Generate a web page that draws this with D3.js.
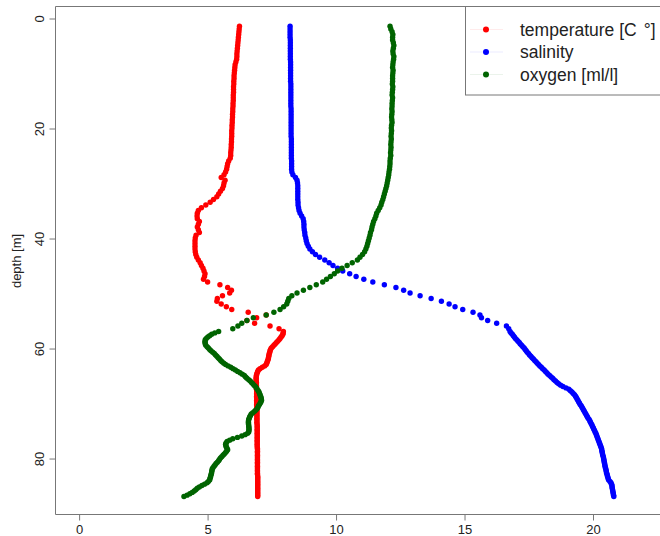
<!DOCTYPE html>
<html>
<head>
<meta charset="utf-8">
<script src="https://cdn.jsdelivr.net/npm/d3@7"></script>
<style>
  html, body { margin: 0; padding: 0; background: #fff; }
  svg { display: block; font-family: "Liberation Sans", Arial, sans-serif; }
</style>
</head>
<body>
<svg id="chart" width="660" height="536"></svg>
<script>
// depth of each sample [m]
const depth = [
  1.5,2,2.5,3,3.5,4,4.5,5,5.5,6,
  6.5,7,7.5,8,8.5,9,9.5,10,10.5,11,
  11.5,12,12.5,13,13.5,14,14.5,15,15.5,16,
  16.5,17,17.5,18,18.5,19,19.5,20,20.5,21,
  21.5,22,22.5,23,23.5,24,24.5,25,25.5,26,
  26.5,27,27.5,28,28.5,29,29.5,30,30.5,31,
  31.5,32,32.5,33,33.5,34,34.5,35,35.5,36,
  36.5,37,37.5,38,38.5,39,39.5,40,40.5,41,
  41.5,42,42.5,43,43.5,44,44.5,45,45.5,46,
  46.5,47,47.5,48,48.5,49,49.5,50,50.5,51,
  51.5,52,52.5,53,53.5,54,54.5,55,55.5,56,
  56.5,57,
  57.25,57.5,57.75,58,58.25,58.5,58.75,59,
  59.25,59.5,59.75,60,60.25,60.5,60.75,61,
  61.25,61.5,61.75,62,62.25,62.5,62.75,63,
  63.25,63.5,63.75,64,64.25,64.5,64.75,65,
  65.25,65.5,65.75,66,66.25,66.5,66.75,67,
  67.25,67.5,67.75,68,68.25,68.5,68.75,69,
  69.25,69.5,69.75,70,70.25,70.5,70.75,71,
  71.25,71.5,71.75,72,72.25,72.5,72.75,73,
  73.25,73.5,73.75,74,74.25,74.5,74.75,75,
  75.25,75.5,75.75,76,76.25,76.5,76.75,77,
  77.25,77.5,77.75,78,78.25,78.5,78.75,79,
  79.25,79.5,79.75,80,80.25,80.5,80.75,81,
  81.25,81.5,81.75,82,82.25,82.5,82.75,83,
  83.25,83.5,83.75,84,84.25,84.5,84.75,85,
  85.25,85.5,85.75,86,86.25,86.5,86.75,87
];

const temperature = [
  6.26,6.25,6.24,6.23,6.22,6.21,6.20,6.19,6.18,6.17,
  6.16,6.16,6.15,6.12,6.09,6.08,6.07,6.06,6.05,6.05,
  6.04,6.04,6.03,6.03,6.03,6.02,6.02,6.02,6.01,6.01,
  6.00,6.00,5.99,5.99,5.98,5.98,5.97,5.97,5.96,5.96,
  5.96,5.95,5.95,5.94,5.94,5.93,5.92,5.92,5.90,5.84,
  5.80,5.78,5.76,5.72,5.66,5.55,5.70,5.66,5.64,5.60,
  5.52,5.45,5.38,5.25,5.12,4.95,4.78,4.66,4.62,4.61,
  4.62,4.70,4.66,4.62,4.66,4.70,4.57,4.54,4.53,4.53,
  4.53,4.53,4.54,4.56,4.60,4.66,4.73,4.78,4.84,4.88,
  4.92,4.90,4.86,5.02,5.50,5.80,5.95,5.88,5.60,5.40,
  5.38,5.55,5.75,5.96,6.60,7.30,6.93,6.55,6.85,7.45,
  7.80,7.97,
  7.96,7.95,7.92,7.88,7.84,7.80,7.75,7.70,
  7.65,7.60,7.55,7.50,7.47,7.45,7.44,7.42,
  7.41,7.40,7.39,7.38,7.36,7.34,7.32,7.30,
  7.24,7.15,7.06,7.00,6.97,6.95,6.93,6.92,
  6.91,6.91,6.91,6.91,6.92,6.92,6.92,6.92,
  6.92,6.92,6.93,6.93,6.93,6.93,6.93,6.93,
  6.93,6.93,6.93,6.93,6.93,6.93,6.94,6.94,
  6.94,6.94,6.94,6.94,6.94,6.94,6.94,6.94,
  6.94,6.94,6.94,6.95,6.95,6.95,6.95,6.95,
  6.95,6.95,6.95,6.95,6.95,6.95,6.95,6.95,
  6.95,6.95,6.95,6.95,6.96,6.96,6.96,6.96,
  6.96,6.96,6.96,6.96,6.96,6.96,6.96,6.96,
  6.96,6.96,6.96,6.96,6.96,6.96,6.96,6.96,
  6.97,6.97,6.97,6.97,6.97,6.97,6.97,6.97,
  6.97,6.97,6.97,6.97,6.97,6.97,6.97,6.97
];

const salinity = [
  8.23,8.23,8.23,8.23,8.23,8.24,8.24,8.24,8.24,8.24,
  8.24,8.24,8.24,8.25,8.25,8.25,8.25,8.25,8.25,8.25,
  8.25,8.26,8.26,8.26,8.26,8.26,8.26,8.26,8.26,8.26,
  8.27,8.27,8.27,8.27,8.27,8.27,8.27,8.27,8.27,8.27,
  8.27,8.28,8.28,8.28,8.28,8.28,8.28,8.28,8.28,8.29,
  8.29,8.29,8.29,8.30,8.34,8.44,8.50,8.52,8.53,8.53,
  8.53,8.53,8.53,8.53,8.54,8.54,8.56,8.58,8.62,8.68,
  8.74,8.76,8.77,8.77,8.78,8.80,8.81,8.84,8.86,8.89,
  8.94,9.00,9.10,9.22,9.38,9.58,9.75,9.90,10.08,10.28,
  10.55,10.80,11.10,11.45,11.90,12.35,12.65,12.90,13.29,13.72,
  14.12,14.42,14.65,14.95,15.35,15.62,15.68,15.92,16.27,16.65,
  16.74,16.79,
  16.83,16.88,16.92,16.96,17.00,17.05,17.10,17.15,
  17.19,17.24,17.29,17.34,17.38,17.42,17.46,17.51,
  17.55,17.60,17.65,17.70,17.75,17.80,17.85,17.90,
  17.95,18.01,18.06,18.12,18.17,18.22,18.27,18.33,
  18.39,18.45,18.50,18.56,18.62,18.68,18.76,18.85,
  18.97,19.08,19.14,19.20,19.25,19.30,19.34,19.37,
  19.40,19.43,19.46,19.49,19.52,19.56,19.59,19.62,
  19.65,19.68,19.71,19.74,19.77,19.80,19.83,19.87,
  19.90,19.92,19.95,19.98,20.00,20.03,20.05,20.08,
  20.10,20.13,20.15,20.17,20.19,20.21,20.23,20.25,
  20.27,20.29,20.31,20.33,20.35,20.36,20.37,20.38,
  20.39,20.40,20.42,20.43,20.44,20.45,20.46,20.47,
  20.48,20.49,20.50,20.52,20.53,20.54,20.55,20.57,
  20.58,20.60,20.61,20.63,20.68,20.72,20.74,20.76,
  20.76,20.77,20.78,20.79,20.80,20.81,20.82,20.83
];

const oxygen = [
  12.12,12.15,12.20,12.23,12.22,12.22,12.25,12.27,12.25,12.23,
  12.24,12.27,12.26,12.24,12.23,12.22,12.24,12.23,12.22,12.22,
  12.22,12.21,12.23,12.22,12.21,12.20,12.22,12.21,12.20,12.20,
  12.19,12.20,12.19,12.18,12.19,12.20,12.18,12.17,12.18,12.17,
  12.16,12.17,12.16,12.15,12.16,12.15,12.14,12.15,12.13,12.12,
  12.12,12.11,12.10,12.08,12.07,12.05,12.03,12.01,11.99,11.96,
  11.93,11.90,11.87,11.84,11.80,11.77,11.72,11.66,11.60,11.57,
  11.53,11.48,11.45,11.42,11.40,11.36,11.34,11.31,11.28,11.25,
  11.22,11.18,11.13,11.05,10.95,10.85,10.65,10.45,10.25,10.08,
  9.95,9.80,9.65,9.50,9.25,9.00,8.75,8.50,8.30,8.18,
  8.14,8.10,7.98,7.84,7.60,7.30,6.80,6.55,6.35,6.20,
  6.00,5.45,
  5.30,5.18,5.10,5.03,4.97,4.93,4.92,4.92,
  4.93,4.95,5.00,5.05,5.10,5.15,5.22,5.28,
  5.33,5.38,5.43,5.48,5.53,5.58,5.65,5.72,
  5.82,5.92,6.01,6.10,6.19,6.28,6.37,6.45,
  6.50,6.55,6.62,6.68,6.73,6.78,6.83,6.88,
  6.92,6.95,6.99,7.02,7.04,7.06,7.08,7.10,
  7.11,7.12,7.10,7.07,7.04,7.00,6.98,6.95,
  6.90,6.85,6.78,6.72,6.69,6.66,6.64,6.62,
  6.61,6.61,6.61,6.62,6.62,6.63,6.63,6.63,
  6.62,6.58,6.48,6.35,6.18,6.00,5.88,5.78,
  5.74,5.72,5.73,5.75,5.78,5.80,5.76,5.72,
  5.67,5.62,5.57,5.52,5.48,5.45,5.40,5.35,
  5.31,5.27,5.23,5.20,5.19,5.18,5.17,5.16,
  5.14,5.13,5.11,5.10,5.05,5.00,4.90,4.80,
  4.70,4.62,4.56,4.50,4.42,4.33,4.22,4.10
];

const seriesNames = ["temperature [C°]", "salinity", "oxygen [ml/l]"];
const seriesColors = ["#ff0000", "#0000ff", "#006400"];
const xTicks = [0, 5, 10, 15, 20];
const yTicks = [0, 20, 40, 60, 80];
const yLabel = "depth [m]";

(function () {
const svg = d3.select("#chart");
const axisColor = "#777";
const textColor = "#222";

const x = d3.scaleLinear().domain([-0.88, 22.88]).range([56, 666.5]);
const y = d3.scaleLinear().domain([-2.0, 90.3]).range([7, 514.7]);

// plot box
const boxL = 55.5, boxT = 6.5, boxB = 514.5, boxR = 666.5;
svg.append("path")
  .attr("d", `M${boxR},${boxT}H${boxL}V${boxB}H${boxR}`)
  .attr("fill", "none").attr("stroke", axisColor).attr("stroke-width", 1);

// bottom axis
const gx = svg.append("g").attr("transform", `translate(0.5,${boxB})`)
  .call(d3.axisBottom(x).tickValues(xTicks).tickSize(6).tickPadding(4).tickFormat(d3.format("d")));
gx.select(".domain").remove();
gx.selectAll(".tick line").attr("stroke", axisColor);
gx.selectAll(".tick text").attr("fill", textColor).style("font-size", "13px")
  .style("font-family", '"Liberation Sans", Arial, sans-serif');

// left axis
const gy = svg.append("g").attr("transform", `translate(${boxL},0.5)`)
  .call(d3.axisLeft(y).tickValues(yTicks).tickSize(6).tickFormat(d3.format("d")));
gy.select(".domain").remove();
gy.selectAll(".tick line").attr("stroke", axisColor);
gy.selectAll(".tick text")
  .attr("fill", textColor)
  .attr("dy", null)
  .attr("transform", "rotate(-90)")
  .attr("x", 0).attr("y", -12)
  .style("text-anchor", "middle")
  .style("font-size", "13px")
  .style("font-family", '"Liberation Sans", Arial, sans-serif');

svg.append("text")
  .attr("transform", `translate(21,261) rotate(-90)`)
  .attr("text-anchor", "middle")
  .attr("fill", textColor)
  .style("font-size", "13px")
  .text(yLabel);

// points
const seriesValues = [temperature, salinity, oxygen];
const n = Math.min(depth.length, temperature.length, salinity.length, oxygen.length);
seriesValues.forEach((vals, i) => {
  const pts = d3.range(n).map(k => ({ d: depth[k], v: vals[k] }));
  svg.append("g")
    .selectAll("circle")
    .data(pts)
    .join("circle")
    .attr("cx", p => x(p.v))
    .attr("cy", p => y(p.d))
    .attr("r", 2.7)
    .attr("fill", seriesColors[i]);
});

// legend
const lg = svg.append("g");
lg.append("rect")
  .attr("x", 465.5).attr("y", 6.5).attr("width", 220).attr("height", 88.5)
  .attr("fill", "#fff").attr("stroke", axisColor);
const rowY = [29.5, 52, 74.5];
seriesNames.forEach((name, i) => {
  lg.append("line")
    .attr("x1", 470).attr("x2", 503).attr("y1", rowY[i]).attr("y2", rowY[i])
    .attr("stroke", seriesColors[i]).attr("stroke-opacity", 0.08).attr("stroke-width", 1);
  lg.append("circle")
    .attr("cx", 486).attr("cy", rowY[i]).attr("r", 3)
    .attr("fill", seriesColors[i]);
  const t = lg.append("text")
    .attr("x", 520).attr("y", rowY[i])
    .attr("dy", "0.36em")
    .attr("fill", textColor)
    .style("font-size", "17.5px");
  const parts = name.split("°");
  if (parts.length > 1) {
    t.append("tspan").text(parts[0]);
    t.append("tspan").attr("dx", 7).text("°" + parts.slice(1).join("°"));
  } else {
    t.text(name);
  }
});
})();
</script>
</body>
</html>
